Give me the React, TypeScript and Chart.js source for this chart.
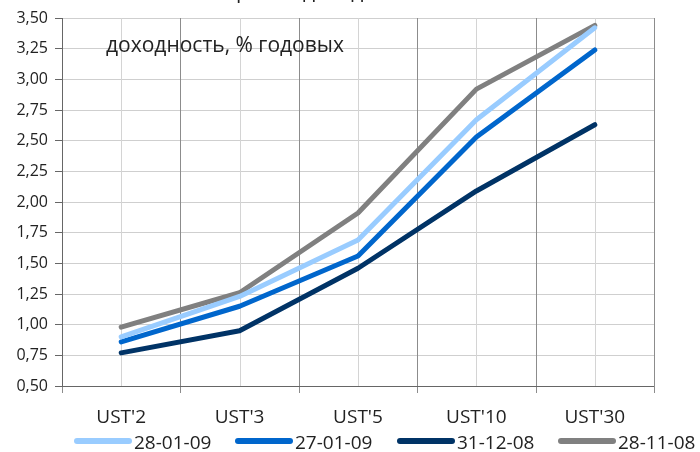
import React, { useEffect, useRef } from "react";
import { Chart, registerables } from "chart.js";

Chart.register(...registerables);

const categories = ["UST'2", "UST'3", "UST'5", "UST'10", "UST'30"];
const seriesNames = ["28-01-09", "27-01-09", "31-12-08", "28-11-08"];
const s280109 = [0.9, 1.23, 1.69, 2.67, 3.42];
const s270109 = [0.86, 1.15, 1.56, 2.53, 3.24];
const s311208 = [0.77, 0.95, 1.46, 2.09, 2.63];
const s281108 = [0.98, 1.26, 1.91, 2.92, 3.44];
const colors = ["#99ccff", "#0066cc", "#003366", "#808080"];
const yMin = 0.5;
const yMax = 3.5;
const yStep = 0.25;
const titleText = "Кривая доходности";
const noteText = "доходность, % годовых";

const FONT = "'Open Sans', sans-serif";

const decorPlugin = {
  id: "decor",
  beforeDatasetsDraw(chart: any) {
    const { ctx, chartArea, scales } = chart;
    const x = scales.x;
    ctx.save();
    ctx.strokeStyle = "#d4d4d4";
    ctx.lineWidth = 1;
    for (let i = 0; i < categories.length; i++) {
      const px = Math.round(x.getPixelForValue(i)) + 0.5;
      ctx.beginPath();
      ctx.moveTo(px, chartArea.top);
      ctx.lineTo(px, chartArea.bottom);
      ctx.stroke();
    }
    ctx.strokeStyle = "#8c8c8c";
    const n = categories.length;
    const w = (chartArea.right - chartArea.left) / n;
    for (let i = 0; i <= n; i++) {
      const px = Math.round(chartArea.left + i * w) + 0.5;
      ctx.beginPath();
      ctx.moveTo(px, chartArea.top);
      ctx.lineTo(px, chartArea.bottom + 7);
      ctx.stroke();
    }
    ctx.restore();
  },
  afterDraw(chart: any) {
    const { ctx, chartArea } = chart;
    ctx.save();
    // clipped title
    ctx.fillStyle = "#222";
    ctx.font = `21px ${FONT}`;
    ctx.textAlign = "left";
    ctx.textBaseline = "alphabetic";
    const pre = ctx.measureText("Кривая ").width;
    ctx.fillText(titleText, 303 - pre, -2);
    // note
    ctx.font = `21px ${FONT}`;
    ctx.textAlign = "left";
    ctx.textBaseline = "middle";
    ctx.fillStyle = "#222";
    ctx.fillText(noteText, 106, 46);
    // axis lines
    ctx.strokeStyle = "#666";
    ctx.lineWidth = 1;
    ctx.beginPath();
    ctx.moveTo(Math.round(chartArea.left) + 0.5, chartArea.top);
    ctx.lineTo(Math.round(chartArea.left) + 0.5, chartArea.bottom);
    ctx.moveTo(chartArea.left, Math.round(chartArea.bottom) + 0.5);
    ctx.lineTo(chartArea.right, Math.round(chartArea.bottom) + 0.5);
    ctx.stroke();
    // legend
    const starts = [74, 235, 397, 558];
    const ly = 441;
    ctx.font = `19px ${FONT}`;
    ctx.textBaseline = "middle";
    ctx.lineCap = "round";
    chart.data.datasets.forEach((ds: any, i: number) => {
      const sx = starts[i];
      ctx.strokeStyle = ds.borderColor;
      ctx.lineWidth = 6;
      ctx.beginPath();
      ctx.moveTo(sx + 3, ly);
      ctx.lineTo(sx + 55, ly);
      ctx.stroke();
      ctx.fillStyle = "#222";
      ctx.fillText(ds.label, sx + 60, ly + 3);
    });
    ctx.restore();
  },
};

export default function App() {
  const ref = useRef<HTMLCanvasElement>(null);
  useEffect(() => {
    document.body.style.margin = "0";
    const data = [s280109, s270109, s311208, s281108];
    const chart = new Chart(ref.current!, {
      type: "line",
      data: {
        labels: categories,
        datasets: data.map((d, i) => ({
          label: seriesNames[i],
          data: d,
          borderColor: colors[i],
          backgroundColor: colors[i],
          borderWidth: 5,
          pointRadius: 0,
          tension: 0,
          borderCapStyle: "round" as const,
          borderJoinStyle: "round" as const,
        })),
      },
      options: {
        animation: false,
        responsive: false,
        layout: { padding: { top: 18, right: 46, left: 0, bottom: 0 } },
        plugins: { legend: { display: false }, tooltip: { enabled: false } },
        scales: {
          x: {
            offset: true,
            grid: { display: false, drawTicks: false },
            border: { display: false },
            ticks: {
              color: "#222",
              font: { family: FONT, size: 19 },
              padding: 20,
              maxRotation: 0,
            },
            afterFit(scale: any) {
              scale.height = 66;
            },
          },
          y: {
            min: yMin,
            max: yMax,
            grid: {
              color: "#cfcfcf",
              tickLength: 7,
              tickColor: "#666",
              drawOnChartArea: true,
            },
            border: { display: false },
            ticks: {
              stepSize: yStep,
              color: "#222",
              font: { family: FONT, size: 16 },
              padding: 7,
              callback: (v: any) => Number(v).toFixed(2).replace(".", ","),
            },
            afterFit(scale: any) {
              scale.width = 62;
            },
          },
        },
      },
      plugins: [decorPlugin],
    });
    return () => chart.destroy();
  }, []);
  return <canvas ref={ref} width={700} height={452} style={{ display: "block" }} />;
}
